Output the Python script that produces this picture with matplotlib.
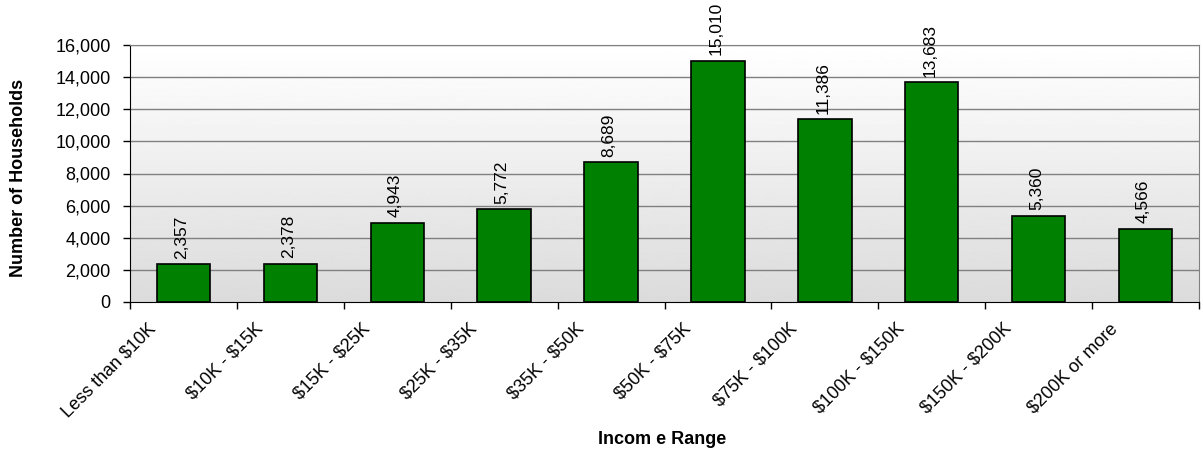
import numpy as np
import matplotlib
matplotlib.use("Agg")
import matplotlib.pyplot as plt
import matplotlib.transforms as mtransforms
from matplotlib.ticker import FuncFormatter, FixedLocator

categories = ["Less than $10K", "$10K - $15K", "$15K - $25K", "$25K - $35K",
              "$35K - $50K", "$50K - $75K", "$75K - $100K", "$100K - $150K",
              "$150K - $200K", "$200K or more"]
households = [2357, 2378, 4943, 5772, 8689, 15010, 11386, 13683, 5360, 4566]
y_ticks = [0, 2000, 4000, 6000, 8000, 10000, 12000, 14000, 16000]

plt.rcParams['font.family'] = ['Liberation Sans', 'DejaVu Sans']
plt.rcParams['text.parse_math'] = False

fig = plt.figure(figsize=(12.03, 4.51), dpi=100)
ax = fig.add_axes([130/1203, 1 - 302/451, (1199-130)/1203, (302-45)/451])

n = len(categories)
x = np.arange(n)
ax.set_xlim(-0.5, n - 0.5)
ax.set_ylim(0, 16000)

# gradient background
grad = np.linspace(1.0, 0.86, 256).reshape(-1, 1)
ax.imshow(grad, extent=[0, 1, 0, 1], transform=ax.transAxes, cmap='gray',
          vmin=0, vmax=1, aspect='auto', zorder=0)

for yt in y_ticks[1:]:
    ax.axhline(yt, color='#808080', lw=1, zorder=1)

bars = ax.bar(x, households, width=0.5, color='#008000', edgecolor='black',
              linewidth=1.2, zorder=3)

for xi, v in zip(x, households):
    ax.annotate(f"{v:,}", (xi, v), xytext=(-1.5, 4), textcoords='offset points',
                rotation=90, ha='center', va='bottom', fontsize=12.5, zorder=4,
                annotation_clip=False)

ax.yaxis.set_major_locator(FixedLocator(y_ticks))
ax.yaxis.set_major_formatter(FuncFormatter(lambda v, p: f"{int(v):,}"))
ax.tick_params(axis='y', length=5, width=1, color='black', labelsize=13, pad=9)

ax.set_xticks(np.arange(-0.5, n, 1.0))
ax.set_xticklabels([])
ax.tick_params(axis='x', length=5, width=1, color='black')
ax.set_xticks(x, minor=True)
ax.set_xticklabels(categories, minor=True, rotation=45, ha='right',
                   rotation_mode='anchor', fontsize=13)
ax.tick_params(axis='x', which='minor', length=0, pad=13)
shift = mtransforms.ScaledTranslation(-36/100, 0, fig.dpi_scale_trans)
for lab in ax.get_xticklabels(minor=True):
    lab.set_transform(lab.get_transform() + shift)

for s in ['top', 'right']:
    ax.spines[s].set_color('#808080')
for s in ['left', 'bottom']:
    ax.spines[s].set_color('black')

fig.text(19/1203, 1 - 178/451, "Number of Households", rotation=90,
         ha='center', va='center', fontsize=13, fontweight='bold')
fig.text(662/1203, 1 - 440/451, "Incom e Range", ha='center', va='center',
         fontsize=13, fontweight='bold')

fig.savefig("out.png", dpi=100)
